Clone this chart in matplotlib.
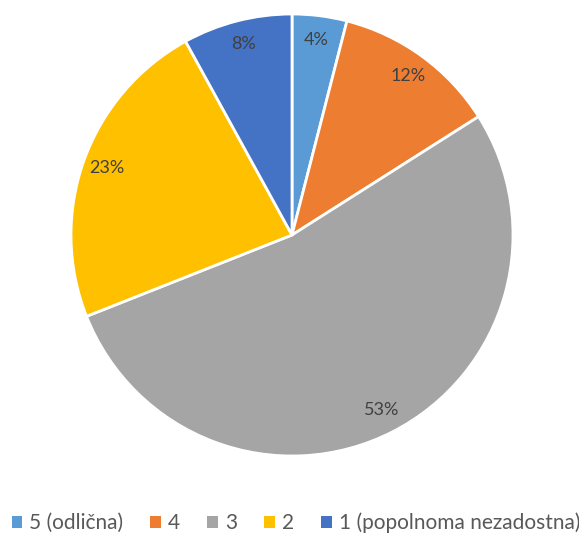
import matplotlib
matplotlib.use("Agg")
import matplotlib.pyplot as plt
from matplotlib.patches import Patch

categories = ["5 (odlična)", "4", "3", "2", "1 (popolnoma nezadostna)"]
values = [4, 12, 53, 23, 8]
colors = ["#5B9BD5", "#ED7D31", "#A5A5A5", "#FFC000", "#4472C4"]

plt.rcParams['font.family'] = ['Lato', 'DejaVu Sans']

W, H = 579, 537
fig = plt.figure(figsize=(W/100, H/100), dpi=100)
cx, cy, r = 292, 235, 221
ax = fig.add_axes([(cx - r)/W, (H - cy - r)/H, 2*r/W, 2*r/H])
total = sum(values)
wedges, texts, autotexts = ax.pie(values, colors=colors, startangle=90, counterclock=False,
                                  autopct=lambda p: f"{round(p * total / 100):d}%",
                                  pctdistance=0.89, radius=1,
                                  wedgeprops=dict(edgecolor='white', linewidth=2),
                                  textprops=dict(color='#404040', fontsize=13))
ax.set_xlim(-1, 1)
ax.set_ylim(-1, 1)
ax.set_aspect('equal')
ax.axis('off')

handles = [Patch(facecolor=c, edgecolor='none') for c in colors]
fig.legend(handles, categories, loc='center', bbox_to_anchor=(296/W, 1 - 523/H), ncol=5,
           frameon=False, fontsize=15, labelcolor='#595959', handlelength=0.5, handleheight=0.5,
           handletextpad=0.35, columnspacing=1.3, borderpad=0, borderaxespad=0)
fig.savefig("out.png", dpi=100)
